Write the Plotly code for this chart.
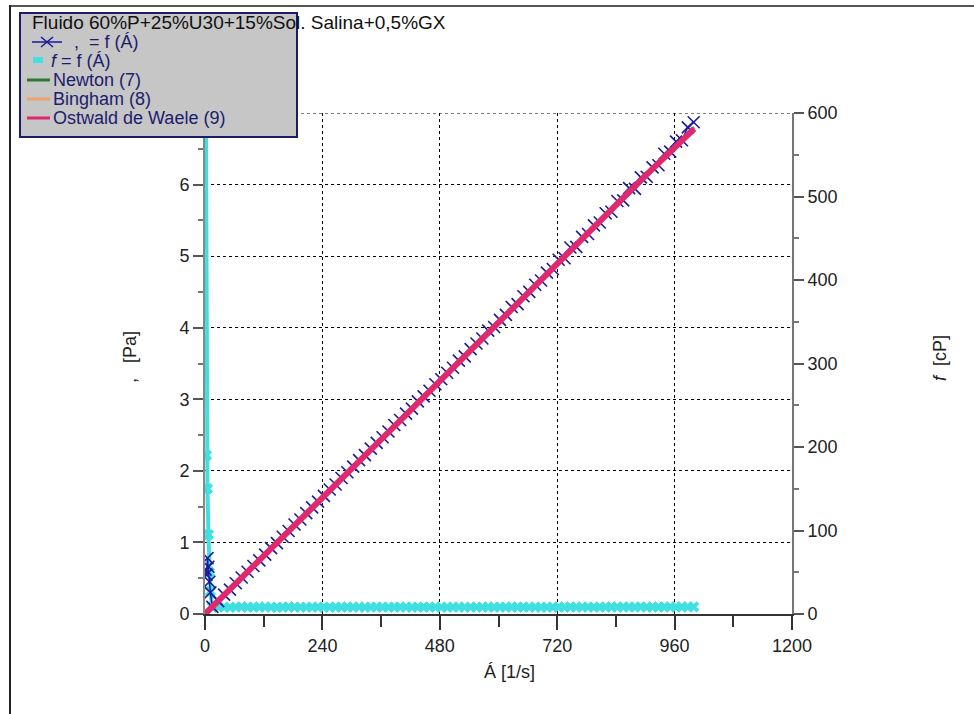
import plotly.graph_objects as go

# ---------------- data ----------------
shear_rate = [1, 3, 5, 7, 9, 11,
              15, 27, 39, 51, 63, 75, 87, 99, 111, 123,
              135, 147, 159, 171, 183, 195, 207, 219, 231, 243,
              255, 267, 279, 291, 303, 315, 327, 339, 351, 363,
              375, 387, 399, 411, 423, 435, 447, 459, 471, 483,
              495, 507, 519, 531, 543, 555, 567, 579, 591, 603,
              615, 627, 639, 651, 663, 675, 687, 699, 711, 723,
              735, 747, 759, 771, 783, 795, 807, 819, 831, 843,
              855, 867, 879, 891, 903, 915, 927, 939, 951, 963,
              975, 987, 999]
shear_stress = [0.62, 0.55, 0.78, 0.66, 0.45, 0.30,
                0.10, 0.18, 0.27, 0.34, 0.43, 0.51, 0.59, 0.67, 0.75, 0.83,
                0.92, 0.99, 1.08, 1.16, 1.25, 1.32, 1.41, 1.49, 1.57, 1.65,
                1.74, 1.81, 1.90, 1.98, 2.06, 2.15, 2.22, 2.31, 2.39, 2.47,
                2.55, 2.64, 2.71, 2.80, 2.87, 2.97, 3.04, 3.12, 3.21, 3.28,
                3.37, 3.44, 3.54, 3.60, 3.70, 3.78, 3.85, 3.96, 4.01, 4.11,
                4.18, 4.29, 4.33, 4.44, 4.50, 4.60, 4.66, 4.77, 4.82, 4.95,
                4.97, 5.12, 5.13, 5.27, 5.31, 5.43, 5.47, 5.60, 5.62, 5.77,
                5.78, 5.95, 5.94, 6.10, 6.11, 6.24, 6.27, 6.43, 6.46, 6.60,
                6.62, 6.80, 6.87]
viscosity_cp = [720, 190, 150, 95, 50, 27,
                8.6, 8.2, 8.4, 8.0, 8.3, 8.5, 8.1, 8.3, 8.2, 8.4,
                8.2, 8.0, 8.3, 8.4, 8.2, 8.1, 8.3, 8.2, 8.4, 8.2,
                8.3, 8.1, 8.2, 8.3, 8.2, 8.4, 8.1, 8.3, 8.2, 8.2,
                8.1, 8.3, 8.2, 8.4, 8.1, 8.3, 8.2, 8.2, 8.3, 8.1,
                8.3, 8.2, 8.4, 8.1, 8.3, 8.2, 8.1, 8.4, 8.2, 8.3,
                8.2, 8.4, 8.1, 8.3, 8.2, 8.3, 8.1, 8.3, 8.2, 8.4,
                8.1, 8.4, 8.2, 8.4, 8.2, 8.3, 8.2, 8.4, 8.2, 8.4,
                8.2, 8.5, 8.3, 8.5, 8.3, 8.4, 8.3, 8.5, 8.4, 8.5,
                8.4, 8.6, 8.6]

fit_rate = [0, 100, 200, 300, 400, 500, 600, 700, 800, 900, 1000]
newton_fit = [0, 0.68, 1.36, 2.04, 2.72, 3.40, 4.08, 4.76, 5.44, 6.12, 6.80]
bingham_fit = [0.02, 0.70, 1.38, 2.05, 2.73, 3.41, 4.09, 4.77, 5.45, 6.12, 6.79]
ostwald_fit = [0, 0.67, 1.35, 2.03, 2.71, 3.39, 4.08, 4.76, 5.45, 6.12, 6.78]

x_ticks = [0, 240, 480, 720, 960, 1200]
left_ticks = [0, 1, 2, 3, 4, 5, 6]
left_max = 7
right_ticks = [0, 100, 200, 300, 400, 500, 600]

title_text = "Fluido 60%P+25%U30+15%Sol. Salina+0,5%GX"
legend_labels = [",  = f (Á)", "<i>f</i> = f (Á)", "Newton (7)", "Bingham (8)", "Ostwald de Waele (9)"]

# ---------------- styling ----------------
FONT = "Liberation Sans, Arial, sans-serif"
NAVY = "#1a1a9a"
CYAN = "#40e0e0"
GREEN = "#2a7a32"
ORANGE = "#f0a070"
PINK = "#e0286e"

W_FIG, H_FIG = 974, 714
L, R, T, B = 205, 792, 113, 614


def fx(px):
    return (px - L) / (R - L)


def fy(py):
    return (B - py) / (B - T)


fig = go.Figure()

# cyan viscosity on the base (right) axis -> drawn first
fig.add_trace(go.Scatter(
    x=shear_rate, y=viscosity_cp, mode="lines+markers", yaxis="y",
    line=dict(color=CYAN, width=4),
    marker=dict(symbol="x", size=10, color=CYAN, line=dict(width=0)),
    showlegend=False, cliponaxis=True))

# shear stress (left axis, overlaying)
fig.add_trace(go.Scatter(
    x=shear_rate, y=shear_stress, mode="lines+markers", yaxis="y2",
    line=dict(color=NAVY, width=1.5),
    marker=dict(symbol="x-thin", size=12, color=NAVY, line=dict(width=1.6, color=NAVY)),
    showlegend=False))

fig.add_trace(go.Scatter(x=fit_rate, y=newton_fit, mode="lines", yaxis="y2",
                         line=dict(color=GREEN, width=3), showlegend=False))
fig.add_trace(go.Scatter(x=fit_rate, y=bingham_fit, mode="lines", yaxis="y2",
                         line=dict(color=ORANGE, width=3), showlegend=False))
fig.add_trace(go.Scatter(x=fit_rate, y=ostwald_fit, mode="lines", yaxis="y2",
                         line=dict(color=PINK, width=6), showlegend=False))

tickfont = dict(family=FONT, size=18, color="#222222")

fig.update_layout(
    width=W_FIG, height=H_FIG,
    margin=dict(l=L, r=W_FIG - R, t=T, b=H_FIG - B, pad=0),
    paper_bgcolor="white", plot_bgcolor="white",
    font=dict(family=FONT, size=18, color="#222222"),
    showlegend=False,
    xaxis=dict(range=[0, 1200], tickvals=x_ticks, ticks="outside", ticklen=14, tickwidth=1.5,
               tickcolor="#333333", showline=True, linecolor="#333333", linewidth=2,
               showgrid=True, gridcolor="#000000", griddash="dot", gridwidth=1,
               zeroline=False, tickfont=tickfont,
               minor=dict(tickvals=[120, 360, 600, 840, 1080], ticks="outside", ticklen=11,
                          tickcolor="#333333", showgrid=False)),
    yaxis=dict(range=[0, 600], side="right", tickvals=right_ticks, ticks="outside", ticklen=10,
               tickwidth=1.5, tickcolor="#555555", showline=True, linecolor="#777777", linewidth=2,
               showgrid=False, zeroline=False, tickfont=tickfont,
               minor=dict(dtick=50, ticks="outside", ticklen=5, tickcolor="#777777", showgrid=False)),
    yaxis2=dict(range=[0, left_max], side="left", overlaying="y", tickvals=left_ticks, ticks="outside",
                ticklen=10, tickwidth=1.5, tickcolor="#555555", showline=True, linecolor="#888888",
                linewidth=2, showgrid=True, gridcolor="#000000", griddash="dot", gridwidth=1,
                zeroline=False, tickfont=tickfont,
                minor=dict(dtick=0.5, ticks="outside", ticklen=5, tickcolor="#777777", showgrid=False)),
)

shapes = []
# top gridline (value 7 on the left axis, label hidden by legend box)
shapes.append(dict(type="line", xref="paper", yref="y2", x0=0, x1=1, y0=left_max, y1=left_max,
                   line=dict(color="#000000", width=1, dash="dot"), layer="below"))
# outer frame (top and left)
shapes.append(dict(type="line", xref="paper", yref="paper", x0=fx(9), x1=fx(W_FIG + 5),
                   y0=fy(6), y1=fy(6), line=dict(color="#555555", width=2), layer="above"))
shapes.append(dict(type="line", xref="paper", yref="paper", x0=fx(10), x1=fx(10),
                   y0=fy(5), y1=fy(H_FIG + 5), line=dict(color="#222222", width=2), layer="above"))
# legend box
shapes.append(dict(type="rect", xref="paper", yref="paper", x0=fx(20), x1=fx(297),
                   y0=fy(137), y1=fy(13), fillcolor="#c6c6c6",
                   line=dict(color="#1c1c6c", width=2), layer="above"))
# legend symbols
rows_y = [42, 61, 80, 99, 118]
shapes.append(dict(type="line", xref="paper", yref="paper", x0=fx(32), x1=fx(62),
                   y0=fy(rows_y[0]), y1=fy(rows_y[0]), line=dict(color=NAVY, width=1.5), layer="above"))
shapes.append(dict(type="line", xref="paper", yref="paper", x0=fx(41), x1=fx(53),
                   y0=fy(rows_y[0] - 5), y1=fy(rows_y[0] + 5), line=dict(color=NAVY, width=1.6), layer="above"))
shapes.append(dict(type="line", xref="paper", yref="paper", x0=fx(41), x1=fx(53),
                   y0=fy(rows_y[0] + 5), y1=fy(rows_y[0] - 5), line=dict(color=NAVY, width=1.6), layer="above"))
shapes.append(dict(type="line", xref="paper", yref="paper", x0=fx(33), x1=fx(43),
                   y0=fy(rows_y[1] - 1), y1=fy(rows_y[1] - 1), line=dict(color=CYAN, width=6), layer="above"))
for yy, col in zip(rows_y[2:], [GREEN, ORANGE, PINK]):
    shapes.append(dict(type="line", xref="paper", yref="paper", x0=fx(27), x1=fx(50),
                       y0=fy(yy), y1=fy(yy), line=dict(color=col, width=3), layer="above"))
fig.update_layout(shapes=shapes)

LEG_TXT = "#1c1c6e"
ann = []
ann.append(dict(xref="paper", yref="paper", x=fx(31), y=fy(23), xanchor="left", yanchor="middle",
                text=title_text, showarrow=False, borderpad=0,
                font=dict(family=FONT, size=19, color="#111111")))
rows_x = [73, 50, 52, 52, 52]
for px, py, lab in zip(rows_x, rows_y, legend_labels):
    ann.append(dict(xref="paper", yref="paper", x=fx(px), y=fy(py), xanchor="left", yanchor="middle",
                    text=lab, showarrow=False, borderpad=0,
                    font=dict(family=FONT, size=18, color=LEG_TXT)))
# axis titles
ann.append(dict(xref="paper", yref="paper", x=fx(509), y=fy(672), xanchor="center", yanchor="middle",
                text="Á [1/s]", showarrow=False, font=dict(family=FONT, size=18, color="#222222")))
ann.append(dict(xref="paper", yref="paper", x=fx(130), y=fy(357), xanchor="center", yanchor="middle",
                text=",   [Pa]", textangle=-90, showarrow=False,
                font=dict(family=FONT, size=18, color="#222222")))
ann.append(dict(xref="paper", yref="paper", x=fx(940), y=fy(358), xanchor="center", yanchor="middle",
                text="<i>f</i>  [cP]", textangle=-90, showarrow=False,
                font=dict(family=FONT, size=18, color="#222222")))
fig.update_layout(annotations=ann)

fig.write_html("out.html")
